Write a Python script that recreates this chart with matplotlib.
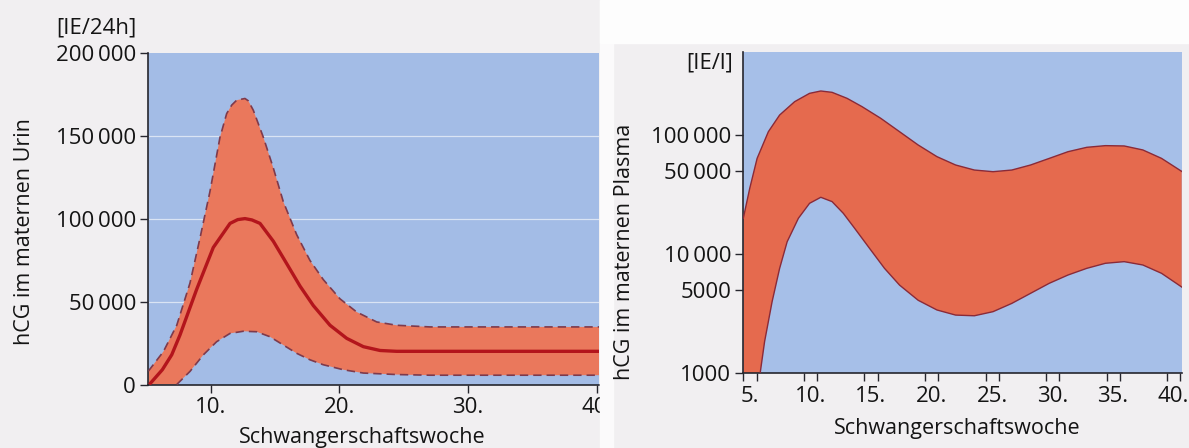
import matplotlib
matplotlib.use("Agg")
import matplotlib.pyplot as plt
from matplotlib.patches import Rectangle
from matplotlib.transforms import ScaledTranslation
from matplotlib.ticker import NullLocator

plt.rcParams['font.family'] = ['Open Sans', 'DejaVu Sans']

# hCG im Urin [IE/24h] (lineare Achse)
urin_upper_w = [5.15, 6.32, 7.36, 8.39, 9.17, 9.94, 10.72, 11.24, 11.63, 12.02, 12.66, 12.92, 13.31,
                14.09, 14.86, 15.64, 16.68, 17.71, 18.75, 20.05, 21.34, 22.9, 24.45, 27.04, 40.17]
urin_upper = [8000, 19800, 35700, 61200, 88400, 116300, 149000, 163300, 168400, 171400, 172400, 171000, 165300,
              149000, 130600, 110200, 90300, 74800, 63200, 51600, 43700, 37700, 35700, 34700, 34700]

urin_mean_w = [5.23, 6.24, 6.97, 7.61, 8.91, 10.2, 11.5, 12.1, 12.66, 13.2, 13.83, 14.86, 15.9,
               16.94, 17.97, 19.27, 20.57, 21.86, 23.16, 24.45, 27.04, 40.17]
urin_mean = [0, 8900, 17900, 29800, 57400, 82600, 97100, 99400, 100000, 99200, 97100, 86400, 72900,
             59300, 47600, 35700, 27800, 22800, 20500, 20000, 20000, 20000]

urin_lower_w = [5.15, 7.36, 8.39, 9.43, 10.46, 11.5, 12.53, 13.57, 14.6, 15.64, 16.68, 17.71, 18.75,
                20.3, 21.86, 24.45, 27.04, 40.17]
urin_lower = [0, 0, 7900, 17900, 25800, 30800, 32100, 31800, 28800, 23800, 18800, 14900, 11900,
              8900, 6900, 6000, 5600, 5600]

urin_yticks = [0, 50000, 100000, 150000, 200000]
urin_ylabels = ['0', '50\u2009000', '100\u2009000', '150\u2009000', '200\u2009000']
urin_xticks = [10, 20, 30, 40]
urin_xlabels = ['10.', '20.', '30.', '40.']

# hCG im Plasma [IE/l] (logarithmische Achse)
plasma_upper_w = [5.0, 5.53, 6.14, 7.07, 8.0, 9.24, 10.47, 11.4, 12.33, 13.57, 14.8, 16.35, 17.9, 19.44,
                  20.99, 22.53, 24.08, 25.62, 27.17, 28.72, 30.26, 31.81, 33.36, 34.9, 36.45, 37.99,
                  39.54, 41.2]
plasma_upper = [20000, 35600, 63600, 106600, 147100, 190400, 223600, 234000, 228000, 203000, 173000,
                138000, 106600, 82400, 65800, 56000, 50800, 49200, 50800, 56000, 63600, 72400, 78800,
                81400, 80900, 74900, 63600, 49500]

plasma_lower_w = [5.0, 6.39, 6.76, 7.38, 8.0, 8.62, 9.55, 10.47, 11.4, 12.33, 13.26, 14.19, 15.42,
                  16.66, 17.9, 19.44, 20.99, 22.53, 24.08, 25.62, 27.17, 28.72, 30.26, 31.81, 33.36,
                  34.9, 36.45, 37.99, 39.54, 41.2]
plasma_lower = [1000, 1000, 1850, 4000, 7600, 12700, 20000, 26700, 30000, 27600, 22000, 16500, 11200,
                7600, 5500, 4100, 3400, 3080, 3040, 3290, 3860, 4690, 5690, 6680, 7600, 8380, 8650,
                8110, 6900, 5300]

plasma_yticks = [1000, 5000, 10000, 50000, 100000]
plasma_ylabels = ['1000', '5000', '10\u2009000', '50\u2009000', '100\u2009000']
plasma_xticks = [5, 10, 15, 20, 25, 30, 35, 40]
plasma_xlabels = ['5.', '10.', '15.', '20.', '25.', '30.', '35.', '40.']
plasma_xminor = [6.1, 11.1, 16.1, 21.1, 26.1, 31.1, 36.1, 41.1]

W, H = 1189, 448
page = '#f1eff1'
blue = '#a3bce6'
band = '#ea785c'
band2 = '#e56a4e'
spine_c = '#26262e'
txt = '#141414'
fs = 16      # tick labels
fl = 15.5    # axis labels

fig = plt.figure(figsize=(W / 100, H / 100), dpi=100, facecolor=page)
# white gap between the two scans
fig.patches.append(Rectangle((600 / W, 0), 13 / W, 1, transform=fig.transFigure, color='#fbfafb', zorder=0))
fig.patches.append(Rectangle((600 / W, 1 - 43 / H), 589 / W, 43 / H, transform=fig.transFigure,
                             color='#fdfdfd', zorder=0))

def style(ax):
    for s in ['top', 'right']:
        ax.spines[s].set_visible(False)
    for s in ['left', 'bottom']:
        ax.spines[s].set_color(spine_c)
        ax.spines[s].set_linewidth(1.2)
    ax.tick_params(which='both', direction='out', length=5.8, width=1.0, color=spine_c,
                   labelsize=fs, pad=3.0, labelcolor=txt)

# ---- left: Urin ----
ax1 = fig.add_axes([148.3 / W, 1 - 384.5 / H, (599 - 148.3) / W, (384.5 - 52.7) / H])
ax1.set_facecolor(blue)
style(ax1)
for yv in urin_yticks[1:-1]:
    ax1.axhline(yv, color='white', lw=0.9, alpha=0.6, zorder=1)
ax1.fill(urin_upper_w + urin_lower_w[::-1], urin_upper + urin_lower[::-1], color=band, lw=0, zorder=2)
ax1.plot(urin_upper_w, urin_upper, color='#7e3a4c', lw=1.2, ls=(0, (5, 3)), zorder=3)
ax1.plot(urin_lower_w[1:], urin_lower[1:], color='#7e3a4c', lw=1.2, ls=(0, (5, 3)), zorder=3)
ax1.plot(urin_mean_w, urin_mean, color='#b3151c', lw=2.4, zorder=4, solid_capstyle='butt')
ax1.set_xlim(5.15, 40.17)
ax1.set_ylim(0, 200000)
ax1.set_xticks(urin_xticks, urin_xlabels)
ax1.set_yticks(urin_yticks, urin_ylabels)

fig.text(96 / W, 1 - 28 / H, '[IE/24h]', fontsize=fs, ha='center', va='center', color=txt)
fig.text(25 / W, 1 - 232 / H, 'hCG im maternen Urin', fontsize=fl, rotation=90,
         ha='center', va='center', color=txt)
fig.text(362 / W, 1 - 437 / H, 'Schwangerschaftswoche', fontsize=fl, ha='center', va='center', color=txt)

# ---- right: Plasma ----
ax2 = fig.add_axes([743.3 / W, 1 - 373.3 / H, (1181.7 - 743.3) / W, (373.3 - 51.7) / H])
ax2.set_facecolor('#a6bfe8')
style(ax2)
ax2.set_yscale('log')
ax2.fill(plasma_upper_w + plasma_lower_w[::-1], plasma_upper + plasma_lower[::-1], color=band2, lw=0,
         zorder=2)
ax2.plot(plasma_upper_w, plasma_upper, color='#8a2a38', lw=1.0, zorder=3)
ax2.plot(plasma_lower_w[1:], plasma_lower[1:], color='#8a2a38', lw=1.0, zorder=3)
ax2.set_xlim(5, 41.2)
ax2.set_ylim(1000, 500000)
ax2.set_xticks(plasma_xticks, plasma_xlabels)
ax2.set_xticks(plasma_xminor, minor=True)
ax2.set_yticks(plasma_yticks, plasma_ylabels)
ax2.yaxis.set_minor_locator(NullLocator())
# labels sit between the tick pairs
shift = ScaledTranslation(6.5 / 100, 0, fig.dpi_scale_trans)
for lab in ax2.get_xticklabels():
    lab.set_transform(lab.get_transform() + shift)

fig.text(733 / W, 1 - 63 / H, '[IE/l]', fontsize=fs, ha='right', va='center', color=txt)
fig.text(625 / W, 1 - 252 / H, 'hCG im maternen Plasma', fontsize=fl, rotation=90,
         ha='center', va='center', color=txt)
fig.text(957 / W, 1 - 428 / H, 'Schwangerschaftswoche', fontsize=fl, ha='center', va='center', color=txt)

fig.savefig('out.png', dpi=100, facecolor=fig.get_facecolor())
